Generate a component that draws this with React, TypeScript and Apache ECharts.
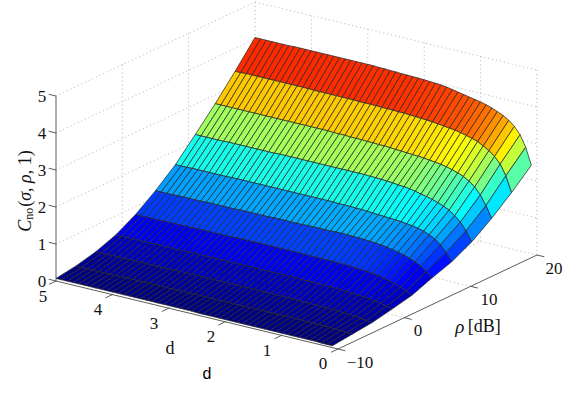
import React, { useEffect, useRef } from "react";
import * as echarts from "echarts";

const dValues = [0.1,0.2,0.3,0.4,0.5,0.6,0.7,0.8,0.9,1.0,1.1,1.2,1.3,1.4,1.5,1.6,1.7,1.8,1.9,2.0,2.1,2.2,2.3,2.4,2.5,2.6,2.7,2.8,2.9,3.0,3.1,3.2,3.3,3.4,3.5,3.6,3.7,3.8,3.9,4.0,4.1,4.2,4.3,4.4,4.5,4.6,4.7,4.8,4.9,5.0];
const rhoValues = [-10,-7,-4,-1,2,5,8,11,14,17,20];
const zM10 = [.05,.05,.05,.06,.06,.06,.06,.06,.06,.06,.06,.06,.06,.06,.06,.06,.06,.06,.06,.06,.06,.06,.06,.06,.06,.07,.07,.07,.07,.07,.07,.07,.07,.07,.07,.07,.07,.07,.07,.07,.07,.07,.07,.07,.07,.07,.07,.07,.07,.07];
const zM7 = [.11,.12,.13,.14,.14,.15,.15,.15,.15,.16,.16,.16,.16,.16,.16,.16,.16,.16,.16,.16,.16,.16,.16,.16,.16,.16,.16,.16,.16,.16,.16,.16,.16,.16,.16,.16,.16,.16,.16,.16,.16,.16,.15,.15,.15,.15,.15,.15,.15,.15];
const zM4 = [.17,.19,.21,.23,.24,.25,.26,.26,.27,.27,.28,.28,.28,.29,.29,.29,.29,.29,.29,.30,.30,.30,.30,.30,.30,.30,.30,.30,.30,.30,.30,.30,.30,.30,.30,.30,.29,.29,.29,.29,.29,.29,.29,.29,.29,.29,.29,.28,.28,.28];
const zM1 = [.28,.32,.36,.39,.41,.43,.44,.45,.46,.47,.47,.48,.48,.49,.49,.49,.49,.50,.50,.50,.50,.50,.50,.50,.50,.50,.50,.50,.50,.50,.50,.50,.50,.50,.50,.50,.50,.50,.49,.49,.49,.49,.49,.49,.49,.49,.49,.49,.48,.48];
const zP2 = [.40,.48,.55,.60,.64,.68,.71,.73,.75,.76,.77,.78,.79,.79,.80,.80,.80,.80,.80,.80,.81,.81,.81,.81,.81,.81,.81,.81,.81,.81,.81,.81,.80,.80,.80,.80,.80,.80,.80,.79,.79,.79,.79,.79,.79,.78,.78,.78,.78,.78];
const zP5 = [.61,.75,.86,.94,1.00,1.05,1.09,1.12,1.15,1.17,1.19,1.20,1.21,1.22,1.22,1.23,1.23,1.23,1.22,1.22,1.22,1.22,1.22,1.21,1.21,1.21,1.21,1.21,1.21,1.20,1.20,1.20,1.20,1.20,1.20,1.19,1.19,1.19,1.19,1.19,1.19,1.18,1.18,1.18,1.18,1.18,1.17,1.17,1.17,1.17];
const zP8 = [.80,1.01,1.18,1.30,1.38,1.44,1.48,1.51,1.53,1.55,1.56,1.57,1.58,1.59,1.60,1.61,1.62,1.62,1.63,1.63,1.63,1.64,1.64,1.64,1.64,1.64,1.64,1.64,1.64,1.64,1.64,1.64,1.64,1.64,1.64,1.64,1.64,1.64,1.64,1.64,1.63,1.63,1.63,1.63,1.63,1.63,1.63,1.62,1.62,1.62];
const zP11 = [1.08,1.34,1.54,1.68,1.79,1.86,1.92,1.97,2.01,2.04,2.08,2.11,2.13,2.14,2.16,2.17,2.18,2.19,2.19,2.20,2.20,2.20,2.20,2.20,2.20,2.20,2.20,2.20,2.20,2.20,2.20,2.20,2.20,2.20,2.20,2.19,2.19,2.19,2.19,2.19,2.19,2.19,2.19,2.19,2.18,2.18,2.18,2.18,2.18,2.18];
const zP14 = [1.46,1.77,2.02,2.20,2.32,2.41,2.47,2.52,2.56,2.59,2.61,2.63,2.65,2.66,2.67,2.68,2.69,2.70,2.71,2.72,2.72,2.73,2.73,2.74,2.74,2.74,2.75,2.75,2.75,2.76,2.76,2.76,2.76,2.76,2.76,2.76,2.76,2.76,2.76,2.76,2.76,2.76,2.76,2.76,2.76,2.76,2.76,2.76,2.76,2.76];
const zP17 = [1.90,2.32,2.60,2.77,2.89,2.98,3.06,3.11,3.15,3.19,3.22,3.24,3.26,3.28,3.30,3.31,3.32,3.33,3.34,3.35,3.35,3.36,3.36,3.36,3.37,3.37,3.37,3.37,3.38,3.38,3.38,3.38,3.38,3.38,3.38,3.38,3.39,3.39,3.39,3.39,3.39,3.39,3.39,3.39,3.39,3.39,3.39,3.39,3.38,3.38];
const zP20 = [2.39,2.84,3.14,3.33,3.46,3.55,3.62,3.68,3.73,3.77,3.80,3.83,3.86,3.89,3.92,3.95,3.97,3.98,3.99,4.00,4.01,4.01,4.02,4.02,4.03,4.03,4.04,4.04,4.05,4.05,4.05,4.05,4.05,4.05,4.05,4.05,4.05,4.05,4.05,4.05,4.05,4.05,4.05,4.04,4.04,4.04,4.04,4.04,4.04,4.04];
const surface = [zM10, zM7, zM4, zM1, zP2, zP5, zP8, zP11, zP14, zP17, zP20];

const dTicks = [0, 1, 2, 3, 4, 5];
const rhoTicks = [-10, 0, 10, 20];
const zTicks = [0, 1, 2, 3, 4, 5];
const zWallTicks = [1, 2, 3, 4, 5];

// orthographic view of the box: every mark goes through this, then the hidden axes
const project = (d: number, rho: number, z: number): [number, number] => [
  338 - 56.4 * d + 6.633 * (rho + 10),
  349 - 13.6 * d - 3.133 * (rho + 10) - 37 * z,
];

const jet = (t: number) => {
  const c = (v: number) => Math.round(255 * Math.max(0, Math.min(1, v)));
  const r = Math.min(4 * t - 1.5, -4 * t + 4.5);
  const g = Math.min(4 * t - 0.5, -4 * t + 3.5);
  const b = Math.min(4 * t + 0.5, -4 * t + 2.5);
  return `rgb(${c(r)},${c(g)},${c(b)})`;
};

const SERIF = '"Liberation Serif", serif';
const GRID = { stroke: "#a0a0a0", lineWidth: 0.8, lineDash: [1, 3], fill: "none" };
const AXIS = { stroke: "#4a4a4a", lineWidth: 0.9, fill: "none" };

type Seg = { a: [number, number, number]; b: [number, number, number]; kind: "grid" | "axis" };

const segments = (): Seg[] => {
  const s: Seg[] = [];
  const g = (a: any, b: any) => s.push({ a, b, kind: "grid" });
  for (const z of zWallTicks) {
    g([5, -10, z], [5, 20, z]);
    g([5, 20, z], [0, 20, z]);
  }
  for (const r of rhoTicks.slice(1)) g([5, r, 0], [5, r, 5]);
  for (const d of dTicks.slice(0, 5)) g([d, 20, 0], [d, 20, 5]);
  for (const r of rhoTicks.slice(1)) g([0, r, 0], [5, r, 0]);
  for (const d of dTicks.slice(1)) g([d, -10, 0], [d, 20, 0]);
  const a = (p: any, q: any) => s.push({ a: p, b: q, kind: "axis" });
  a([5, -10, 0], [5, -10, 5]);
  a([5, -10, 0], [0, -10, 0]);
  a([0, -10, 0], [0, 20, 0]);
  for (const z of zTicks) a([5, -10, z], [5.13, -10, z]);
  for (const d of dTicks) a([d, -10, 0], [d, -11.05, 0]);
  for (const r of rhoTicks) a([0, r, 0], [-0.13, r, 0]);
  return s;
};

const App = () => {
  const ref = useRef<HTMLDivElement>(null);
  useEffect(() => {
    document.body.style.margin = "0";
    const chart = echarts.init(ref.current!, null, { renderer: "svg" });
    const all = surface.flat();
    const zMin = Math.min(...all);
    const zMax = Math.max(...all);

    const cells: number[][] = [];
    for (let i = rhoValues.length - 2; i >= 0; i--) {
      for (let j = dValues.length - 2; j >= 0; j--) cells.push([i, j]);
    }
    const segs = segments();

    const numStyle = { fontFamily: SERIF, fontSize: 17, fill: "#111", align: "center", verticalAlign: "middle" };
    const label = (x: number, y: number, text: string) => ({
      type: "text", x, y, silent: true, style: { ...numStyle, text },
    });

    const zLabels = zTicks.map((z, k) => label(42, 281 - 37 * k, String(z)));
    const dLabelPos = [[323, 363], [267, 350], [211, 336], [154, 323], [98, 309], [43, 296]];
    const dLabels = dTicks.map((d, k) => label(dLabelPos[k][0], dLabelPos[k][1], String(d)));
    const rhoLabelPos = [[360, 362], [418, 330], [489, 299], [554, 268]];
    const rhoLabels = rhoTicks.map((r, k) =>
      label(rhoLabelPos[k][0], rhoLabelPos[k][1], String(r).replace("-", "\u2212"))
    );

    chart.setOption({
      animation: false,
      backgroundColor: "#fff",
      grid: { left: 0, right: 0, top: 0, bottom: 0 },
      xAxis: { type: "value", min: 0, max: 582, show: false },
      yAxis: { type: "value", min: 0, max: 397, inverse: true, show: false },
      graphic: [
        ...zLabels,
        ...dLabels,
        ...rhoLabels,
        {
          type: "text", x: 478, y: 326, silent: true,
          style: {
            text: "{i|\u03c1} {r|[dB]}", align: "center", verticalAlign: "middle",
            rich: {
              i: { fontFamily: SERIF, fontSize: 19, fontStyle: "italic", fill: "#111" },
              r: { fontFamily: SERIF, fontSize: 18, fill: "#111" },
            },
          },
        },
        { type: "text", x: 170, y: 348, silent: true, style: { ...numStyle, text: "d", fontSize: 18 } },
        {
          type: "text", x: 207, y: 373, silent: true,
          style: { text: "d", fontFamily: '"Liberation Sans", sans-serif', fontSize: 16, fill: "#000", align: "center", verticalAlign: "middle" },
        },
        {
          type: "text", x: 25, y: 191, rotation: Math.PI / 2, silent: true,
          style: {
            text: "{i|C}{s|no}{r|(}{i|\u03c3}{r|, }{i|\u03c1}{r|, 1)}", align: "center", verticalAlign: "middle",
            rich: {
              i: { fontFamily: SERIF, fontSize: 18, fontStyle: "italic", fill: "#111" },
              r: { fontFamily: SERIF, fontSize: 18, fill: "#111" },
              s: { fontFamily: SERIF, fontSize: 12, fill: "#111", padding: [7, 1, 0, 0] },
            },
          },
        },
      ],
      series: [
        {
          type: "custom",
          coordinateSystem: "cartesian2d",
          silent: true,
          z: 1,
          data: segs.map((_, k) => [k]),
          encode: { x: 0, y: 0 },
          clip: false,
          renderItem: (_p: any, api: any) => {
            const seg = segs[api.value(0)];
            const p = api.coord(project(seg.a[0], seg.a[1], seg.a[2]));
            const q = api.coord(project(seg.b[0], seg.b[1], seg.b[2]));
            return {
              type: "line",
              shape: { x1: p[0], y1: p[1], x2: q[0], y2: q[1] },
              style: seg.kind === "grid" ? GRID : AXIS,
            };
          },
        },
        {
          type: "custom",
          coordinateSystem: "cartesian2d",
          silent: true,
          z: 2,
          data: cells,
          encode: { x: 0, y: 1 },
          clip: false,
          renderItem: (_p: any, api: any) => {
            const i = api.value(0);
            const j = api.value(1);
            const corner = (ii: number, jj: number) =>
              api.coord(project(dValues[jj], rhoValues[ii], surface[ii][jj]));
            const t = (surface[i][j] - zMin) / (zMax - zMin);
            return {
              type: "polygon",
              shape: { points: [corner(i, j), corner(i, j + 1), corner(i + 1, j + 1), corner(i + 1, j)] },
              style: { fill: jet(t), stroke: "#2a2a2a", lineWidth: 0.75 },
            };
          },
        },
      ],
    });
    return () => chart.dispose();
  }, []);
  return <div ref={ref} style={{ width: 582, height: 397 }} />;
};

export default App;
